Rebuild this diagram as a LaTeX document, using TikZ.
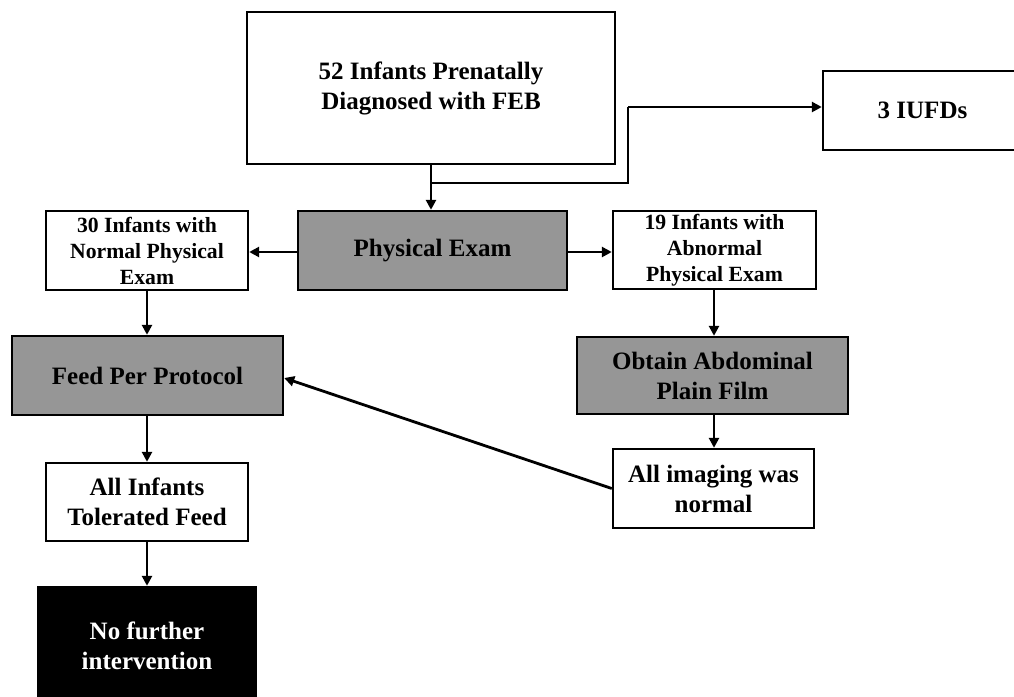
\documentclass[tikz,border=0pt]{standalone}
\usepackage{fontspec}
\setmainfont{Liberation Serif}
\usetikzlibrary{arrows.meta,calc}
\definecolor{boxgray}{RGB}{150,150,150}
\tikzset{
  box/.style={draw=black, line width=2.4pt, inner sep=0pt, align=center, font=\fontsize{25}{30}\selectfont\bfseries},
  smallbox/.style={box, font=\fontsize{21.7}{26}\selectfont\bfseries},
  graybox/.style={box, fill=boxgray},
  blackbox/.style={box, fill=black, text=white},
  conn/.style={line width=2.8pt, -{Triangle[length=10pt,width=10pt]}},
  plain/.style={line width=2.8pt}
}
\begin{document}
\begin{tikzpicture}[x=1pt,y=-1pt]
\useasboundingbox (0,0) rectangle (1014,696);
\node[box, minimum width=368pt, minimum height=152pt] (top) at (431,88) {52 Infants Prenatally\\Diagnosed with FEB};
\node[box, minimum width=199pt, minimum height=79pt] (iufd) at (922.5,110.5) {3 IUFDs};
\node[graybox, minimum width=269pt, minimum height=79pt] (phys) at (432.5,250.5) {Physical Exam};
\node[smallbox, minimum width=202pt, minimum height=79pt] (normal) at (147,250.5) {30 Infants with\\Normal Physical\\Exam};
\node[smallbox, minimum width=203pt, minimum height=78pt] (abnormal) at (714.5,250) {19 Infants with\\Abnormal\\Physical Exam};
\node[graybox, minimum width=271pt, minimum height=79pt] (feed) at (147.5,375.5) {Feed Per Protocol};
\node[graybox, minimum width=271pt, minimum height=77pt] (obtain) at (712.5,375.5) {Obtain Abdominal\\Plain Film};
\node[box, minimum width=201pt, minimum height=79pt] (imaging) at (713.5,488.5) {All imaging was\\normal};
\node[box, minimum width=202pt, minimum height=78pt] (tolerated) at (147,502) {All Infants\\Tolerated Feed};
\node[blackbox, minimum width=218pt, minimum height=118pt] (nofurther) at (147,646) {No further\\intervention};

\coordinate (split) at (431,183);
\coordinate (bend1) at (628,183);
\coordinate (bend2) at (628,107);
\coordinate (iufdin) at (iufd.west |- bend2);

\draw[conn] (top.south -| split) -- (split |- phys.north);
\draw[plain] (split) -- (bend1) -- (bend2);
\draw[conn] (bend2) -- (iufdin);
\draw[conn] (phys.west |- 0,252) -- (normal.east |- 0,252);
\draw[conn] (phys.east |- 0,252) -- (abnormal.west |- 0,252);
\draw[conn] (normal.south) -- (feed.north -| normal.south);
\draw[conn] (feed.south -| normal.south) -- (tolerated.north);
\draw[conn] (tolerated.south) -- (nofurther.north -| tolerated.south);
\draw[conn] (abnormal.south -| 714,0) -- (obtain.north -| 714,0);
\draw[conn] (obtain.south -| 714,0) -- (imaging.north -| 714,0);
\draw[conn] (imaging.west) -- ($(feed.east)+(0,2.5)$);
\end{tikzpicture}
\end{document}
